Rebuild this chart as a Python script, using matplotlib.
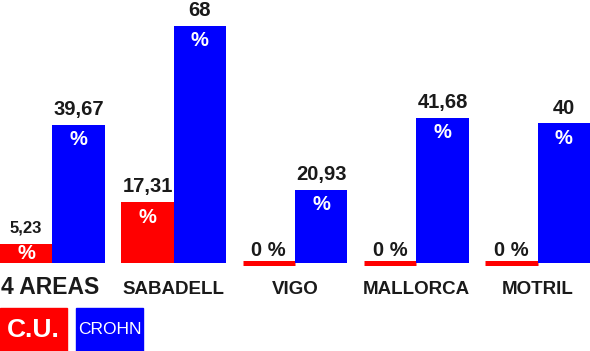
import matplotlib
matplotlib.use("Agg")
import matplotlib.pyplot as plt
from matplotlib.patches import Rectangle
import numpy as np

areas = ["4 AREAS", "SABADELL", "VIGO", "MALLORCA", "MOTRIL"]
cu = [5.23, 17.31, 0, 0, 0]
crohn = [39.67, 68, 20.93, 41.68, 40]

RED = "#ff0000"
BLUE = "#0000ff"
INK = "#1a1a1a"
plt.rcParams['font.family'] = ['Liberation Sans', 'DejaVu Sans']

W, H = 590, 351
fig = plt.figure(figsize=(W / 100, H / 100), dpi=100)
ax = fig.add_axes([0, 0, 1, 1])
ax.axis('off')

px = 3.478          # pixels per unit of value
base = 262.5        # baseline, pixels from top
bw = 0.432
ax.set_xlim(-bw, len(areas) - 1 + bw)
ax.set_ylim(-(H - base) / px, base / px)

x = np.arange(len(areas))
lw = [3.6 if v == 0 else 0 for v in cu]
ax.bar(x - bw / 2, cu, width=bw, color=RED, edgecolor=RED, linewidth=lw)
ax.bar(x + bw / 2, crohn, width=bw, color=BLUE, linewidth=0)

def fmt(v):
    return f"{v:g}".replace('.', ',')

def label(xc, v, gap, size):
    ax.annotate(fmt(v) if v else "0 %", (xc, v), xytext=(0, gap * 0.72),
                textcoords='offset points', ha='center', va='baseline',
                fontsize=size, fontweight='bold', color=INK)
    if v:
        h = v * px
        off = min(15, h / 2)
        ax.annotate("%", (xc, v), xytext=(0, -off * 0.72),
                    textcoords='offset points', ha='center', va='center',
                    fontsize=14.5, fontweight='bold', color='white')

for i in range(len(areas)):
    if cu[i]:
        label(x[i] - bw / 2, cu[i], 12 if cu[i] < 10 else 10, 12 if cu[i] < 10 else 14.5)
    else:
        label(x[i] - bw / 2, cu[i], 7, 14.5)
    label(x[i] + bw / 2, crohn[i], 9.5, 14.5)

for i, name in enumerate(areas):
    if i == 0:
        ax.text(x[i] - 0.02, -(294 - base) / px, name, ha='center', va='baseline',
                fontsize=16.5, fontweight='bold', color=INK)
    else:
        ax.text(x[i], -(294 - base) / px, name, ha='center', va='baseline',
                fontsize=13.5, fontweight='bold', color=INK)

# legend boxes
fig.patches.append(Rectangle((0, 0), 67 / W, 43 / H, transform=fig.transFigure,
                             color=RED, zorder=0))
fig.patches.append(Rectangle((76 / W, 0), 67 / W, 43 / H, transform=fig.transFigure,
                             color=BLUE, zorder=0))
fig.text(33.5 / W, (H - 330) / H, "C.U.", ha='center', va='center',
         fontsize=19, fontweight='bold', color='white')
fig.text(109.5 / W, (H - 330) / H, "CROHN", ha='center', va='center',
         fontsize=12.5, color='white')

fig.savefig("out.png", dpi=100)
